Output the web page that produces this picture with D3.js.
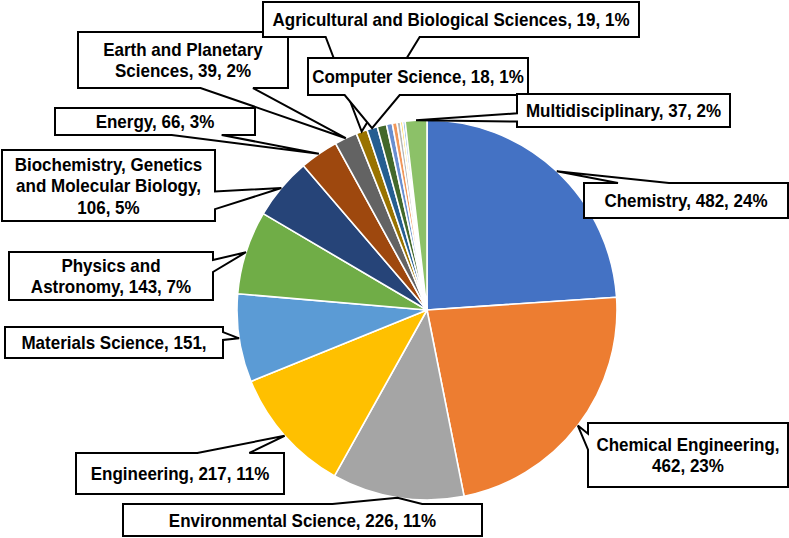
<!DOCTYPE html>
<html>
<head>
<meta charset="utf-8">
<script src="https://cdn.jsdelivr.net/npm/d3@7"></script>
<style>
  html, body { margin: 0; padding: 0; background: #fff; }
  svg { display: block; }
</style>
</head>
<body>
<svg id="chart" width="789" height="538"></svg>
<script>
// ---- data ----
const categories = [
  "Chemistry", "Chemical Engineering", "Environmental Science", "Engineering",
  "Materials Science", "Physics and Astronomy", "Biochemistry, Genetics and Molecular Biology",
  "Energy", "Earth and Planetary Sciences", "Agricultural and Biological Sciences",
  "Computer Science", "(unlabelled 1)", "(unlabelled 2)", "(unlabelled 3)",
  "(unlabelled 4)", "(unlabelled 5)", "(unlabelled 6)", "Multidisciplinary"
];
const values = [482, 462, 226, 217, 151, 143, 106, 66, 39, 19, 18, 16, 10, 8, 6, 4, 4, 37];
const labelled = [true, true, true, true, true, true, true, true, true, true, true,
                  false, false, false, false, false, false, true];

// ---- styles ----
const colors = ["#4472C4", "#ED7D31", "#A5A5A5", "#FFC000", "#5B9BD5", "#70AD47",
                "#264478", "#9E480E", "#636363", "#997300", "#255E91", "#43682B",
                "#698ED0", "#F1975A", "#B7B7B7", "#FFCD33", "#7CAFDD", "#8CC168"];

// ---- layout (label boxes: x, y, w, h, words per line) ----
const layout = {
  "Chemistry":                 {box: [584, 183, 204, 35], wrap: null},
  "Chemical Engineering":      {box: [588, 423, 200, 64], wrap: [2, 2]},
  "Environmental Science":     {box: [123, 504, 359, 32], wrap: null},
  "Engineering":               {box: [76, 453, 208, 41], wrap: null},
  "Materials Science":         {box: [5, 327, 218, 31], wrap: [3]},
  "Physics and Astronomy":     {box: [9, 252, 204, 48], wrap: [2, 3]},
  "Biochemistry, Genetics and Molecular Biology": {box: [2, 150, 213, 71], wrap: [2, 3, 2]},
  "Energy":                    {box: [55, 108, 200, 27], wrap: null},
  "Earth and Planetary Sciences": {box: [78, 32, 210, 56], wrap: [3, 3]},
  "Agricultural and Biological Sciences": {box: [263, 2, 376, 35], wrap: null},
  "Computer Science":          {box: [308, 58, 220, 37], wrap: null},
  "Multidisciplinary":         {box: [517, 94, 213, 33], wrap: null}
};

const cx = 427, cy = 310, R = 190;
const fontSize = 17, lineH = 21.5, textStretchY = 1.08;

const data = categories.map((c, i) => ({name: c, value: values[i], labelled: labelled[i], color: colors[i]}));
const total = d3.sum(values);

const svg = d3.select("#chart");
const pie = d3.pie().sort(null).value(d => d.value).startAngle(0).endAngle(2 * Math.PI);
const arcs = pie(data);
const arc = d3.arc().innerRadius(0).outerRadius(R);
const edgeArc = d3.arc().innerRadius(R).outerRadius(R);

const g = svg.append("g").attr("transform", `translate(${cx},${cy})`);
g.selectAll("path.slice").data(arcs).join("path")
  .attr("class", "slice")
  .attr("d", arc)
  .attr("fill", d => d.data.color)
  .attr("stroke", "#fff")
  .attr("stroke-width", 1.6)
  .attr("stroke-linejoin", "round");

// wedge-rectangle callout (like the Office preset shape)
function calloutPath(x, y, w, h, tx, ty) {
  const hc = x + w / 2, vc = y + h / 2;
  const dxPos = tx - hc, dyPos = ty - vc;
  const vert = Math.abs(dyPos) / h > Math.abs(dxPos) / w;
  const x1 = x + w * (dxPos > 0 ? 7 : 2) / 12, x2 = x + w * (dxPos > 0 ? 10 : 5) / 12;
  const y1 = y + h * (dyPos > 0 ? 7 : 2) / 12, y2 = y + h * (dyPos > 0 ? 10 : 5) / 12;
  const p = d3.path();
  p.moveTo(x, y);
  if (vert && dyPos < 0) { p.lineTo(x1, y); p.lineTo(tx, ty); p.lineTo(x2, y); }
  p.lineTo(x + w, y);
  if (!vert && dxPos > 0) { p.lineTo(x + w, y1); p.lineTo(tx, ty); p.lineTo(x + w, y2); }
  p.lineTo(x + w, y + h);
  if (vert && dyPos > 0) { p.lineTo(x2, y + h); p.lineTo(tx, ty); p.lineTo(x1, y + h); }
  p.lineTo(x, y + h);
  if (!vert && dxPos < 0) { p.lineTo(x, y2); p.lineTo(tx, ty); p.lineTo(x, y1); }
  p.closePath();
  return p.toString();
}

const labelsG = svg.append("g");
arcs.filter(d => d.data.labelled).forEach(d => {
  const L = layout[d.data.name];
  const [bx, by, bw, bh] = L.box;
  const [ex, ey] = edgeArc.centroid(d);
  const tx = cx + ex, ty = cy + ey;
  const pct = Math.round(d.data.value / total * 100);
  const full = `${d.data.name}, ${d.data.value}, ${pct}%`;
  let lines;
  if (L.wrap) {
    const words = full.split(" ");
    lines = [];
    let k = 0;
    L.wrap.forEach(n => { lines.push(words.slice(k, k + n).join(" ")); k += n; });
  } else {
    lines = [full];
  }
  const lg = labelsG.append("g");
  lg.append("path")
    .attr("d", calloutPath(bx, by, bw, bh, tx, ty))
    .attr("fill", "#fff")
    .attr("stroke", "#000")
    .attr("stroke-width", 2)
    .attr("stroke-linejoin", "miter");
  const mid = by + bh / 2;
  const t = lg.append("text")
    .attr("transform", `translate(0,${mid}) scale(1,${textStretchY}) translate(0,${-mid})`)
    .attr("font-family", "'Liberation Sans', Arial, Helvetica, sans-serif")
    .attr("font-weight", "bold")
    .attr("font-size", fontSize)
    .attr("fill", "#000")
    .attr("text-anchor", "middle");
  lines.forEach((ln, i) => {
    t.append("tspan")
      .attr("x", bx + bw / 2)
      .attr("y", mid + (i - (lines.length - 1) / 2) * lineH / textStretchY)
      .attr("dy", "0.36em")
      .text(ln);
  });
});
</script>
</body>
</html>
